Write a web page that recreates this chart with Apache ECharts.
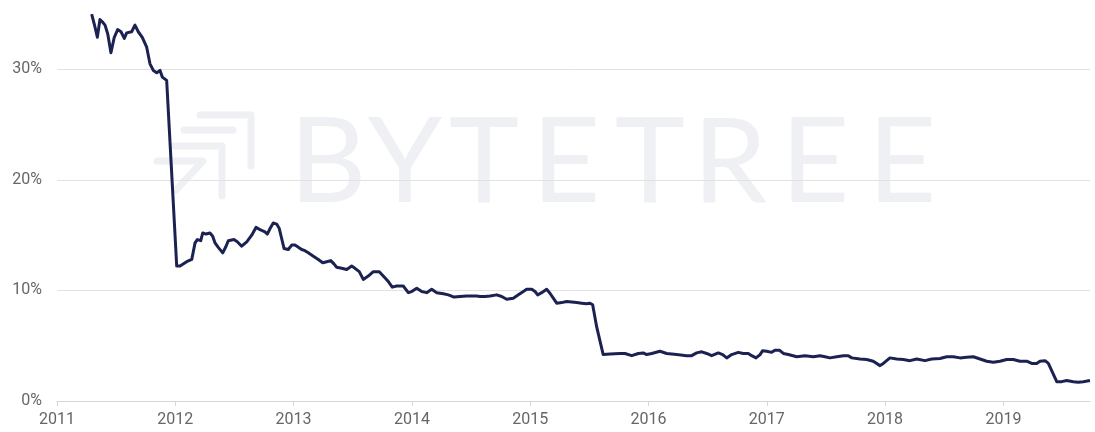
<!DOCTYPE html>
<html>
<head>
<meta charset="utf-8">
<script src="https://cdn.jsdelivr.net/npm/echarts@6/dist/echarts.min.js"></script>
<style>
html,body{margin:0;padding:0;background:#fff;}
#chart{width:1095px;height:432px;}
</style>
</head>
<body>
<div id="chart"></div>
<script>
// Time expressed as decimal year
const years = [
2011.293,2011.315,2011.341,2011.363,2011.383,2011.406,2011.429,2011.456,2011.484,2011.513,
2011.541,2011.569,2011.589,2011.631,2011.659,2011.687,2011.721,2011.758,2011.786,2011.814,
2011.843,2011.871,2011.890,2011.927,
2012.012,2012.040,2012.096,2012.139,2012.167,2012.186,2012.215,2012.232,2012.260,2012.293,
2012.316,2012.336,2012.363,2012.401,2012.429,2012.448,2012.496,2012.524,2012.561,2012.604,
2012.646,2012.682,2012.716,2012.758,2012.778,2012.801,2012.828,2012.857,2012.879,2012.899,
2012.919,2012.955,2012.984,
2013.012,2013.040,2013.068,2013.096,2013.124,2013.167,2013.209,2013.246,2013.280,2013.314,
2013.341,2013.364,2013.407,2013.449,2013.491,2013.519,2013.555,2013.589,2013.631,2013.674,
2013.724,2013.758,2013.801,2013.834,2013.871,2013.899,2013.927,2013.970,2013.998,
2014.041,2014.083,2014.125,2014.167,2014.210,2014.266,2014.308,2014.356,2014.407,2014.463,
2014.506,2014.548,2014.576,2014.618,2014.660,2014.717,2014.759,2014.801,2014.857,2014.900,
2014.942,2014.970,
2015.013,2015.041,2015.063,2015.097,2015.139,2015.167,2015.195,2015.224,2015.266,2015.308,
2015.351,2015.393,2015.435,2015.476,2015.505,2015.528,2015.562,2015.617,2015.675,2015.759,
2015.801,2015.858,2015.914,2015.956,2015.985,
2016.027,2016.097,2016.154,2016.238,2016.323,2016.365,2016.407,2016.450,2016.492,2016.534,
2016.590,2016.627,2016.661,2016.703,2016.759,2016.801,2016.844,2016.872,2016.909,2016.943,
2016.965,2016.999,
2017.041,2017.069,2017.106,2017.140,2017.182,2017.253,2017.323,2017.393,2017.450,2017.492,
2017.534,2017.591,2017.647,2017.689,2017.718,2017.788,2017.844,2017.900,2017.957,2017.985,
2018.041,2018.098,2018.154,2018.210,2018.267,2018.337,2018.394,2018.464,2018.521,2018.577,
2018.633,2018.690,2018.746,2018.802,2018.859,2018.915,2018.971,
2019.028,2019.084,2019.140,2019.197,2019.239,2019.281,2019.309,2019.352,2019.380,2019.451,
2019.493,2019.535,2019.591,2019.633,2019.675,2019.732
];
const shares = [
35.0,34.1,32.9,34.5,34.3,34.0,33.2,31.5,32.9,33.6,
33.4,32.8,33.3,33.4,34.0,33.4,32.9,32.0,30.5,29.9,
29.7,29.9,29.3,29.0,
12.2,12.2,12.6,12.8,14.3,14.6,14.5,15.2,15.1,15.2,
14.9,14.3,13.9,13.4,14.0,14.5,14.6,14.4,14.0,14.4,
15.0,15.7,15.5,15.3,15.1,15.6,16.1,16.0,15.6,14.7,
13.8,13.7,14.1,
14.1,13.9,13.7,13.6,13.4,13.1,12.8,12.5,12.6,12.7,
12.4,12.1,12.0,11.9,12.2,12.0,11.7,11.0,11.3,11.7,
11.7,11.3,10.8,10.3,10.4,10.4,10.4,9.8,9.9,
10.2,9.9,9.8,10.1,9.8,9.7,9.6,9.4,9.45,9.5,
9.5,9.5,9.45,9.45,9.5,9.6,9.45,9.2,9.3,9.6,
9.9,10.1,
10.1,9.9,9.6,9.8,10.1,9.75,9.3,8.85,8.9,9.0,
8.95,8.9,8.85,8.8,8.85,8.7,6.7,4.2,4.25,4.3,
4.3,4.1,4.3,4.35,4.2,
4.3,4.5,4.3,4.2,4.1,4.1,4.35,4.45,4.3,4.1,
4.35,4.2,3.9,4.2,4.4,4.3,4.3,4.1,3.9,4.2,
4.55,4.5,
4.4,4.6,4.6,4.3,4.2,4.0,4.1,4.0,4.1,4.0,
3.9,4.0,4.1,4.1,3.9,3.8,3.75,3.6,3.2,3.4,
3.9,3.8,3.75,3.65,3.8,3.65,3.8,3.85,4.0,4.0,
3.9,3.95,4.0,3.8,3.6,3.5,3.6,
3.75,3.75,3.6,3.6,3.4,3.4,3.6,3.65,3.4,1.75,
1.75,1.85,1.75,1.7,1.75,1.85
];
const xTicks = [2011,2012,2013,2014,2015,2016,2017,2018,2019];
const yTicks = [0,10,20,30];
const watermarkLetters = ['B','Y','T','E','T','R','E','E'];

const chart = echarts.init(document.getElementById('chart'));
const wmColor = '#eff0f4';
const letterCenters = [328,405,484,566,650,730,815,902];
const graphics = watermarkLetters.map((ch,i)=>({
  type:'text', z:-10, silent:true,
  x: letterCenters[i], y: 164,
  style:{text:ch, fill:wmColor, font:'400 119px Lato', textAlign:'center', textVerticalAlign:'middle'}
}));
const logoLines = [
  [[200,115],[251,115],[251,166]],
  [[184,130],[233,130]],
  [[174,146],[222,146],[222,196]],
  [[157,161],[203,161],[176,190]]
];
logoLines.forEach(pts=>graphics.push({
  type:'polyline', z:-10, silent:true,
  shape:{points:pts},
  style:{stroke:wmColor, lineWidth:7, lineCap:'round', lineJoin:'round', fill:null}
}));

const labelFont = {color:'#666', fontSize:16, fontFamily:'Roboto'};
chart.setOption({
  animation:false,
  graphic: graphics,
  grid:{left:57,right:5,top:3,bottom:31,outerBoundsMode:'none',containLabel:false},
  xAxis:{
    type:'value', min:2011, max:years[years.length-1], interval:1,
    splitLine:{show:false},
    axisLine:{show:true,lineStyle:{color:'#d6d6d6',width:1}},
    axisTick:{show:true,length:5,lineStyle:{color:'#d6d6d6'},customValues:xTicks},
    axisLabel:Object.assign({margin:11,customValues:xTicks,formatter:v=>String(v)},labelFont)
  },
  yAxis:{
    type:'value', min:0, max:36, interval:10,
    axisLine:{show:false}, axisTick:{show:false},
    splitLine:{show:true,showMaxLine:false,lineStyle:{color:'#e2e2e2',width:1}},
    axisLabel:Object.assign({margin:15,customValues:yTicks,
      formatter:v=>(v%10===0? v+'%':'')},labelFont)
  },
  series:[{
    type:'line', showSymbol:false, symbol:'none',
    data: years.map((x,i)=>[x,shares[i]]),
    lineStyle:{color:'#1b2252',width:3,join:'round'},
    itemStyle:{color:'#1b2252'}
  }]
});
</script>
</body>
</html>
